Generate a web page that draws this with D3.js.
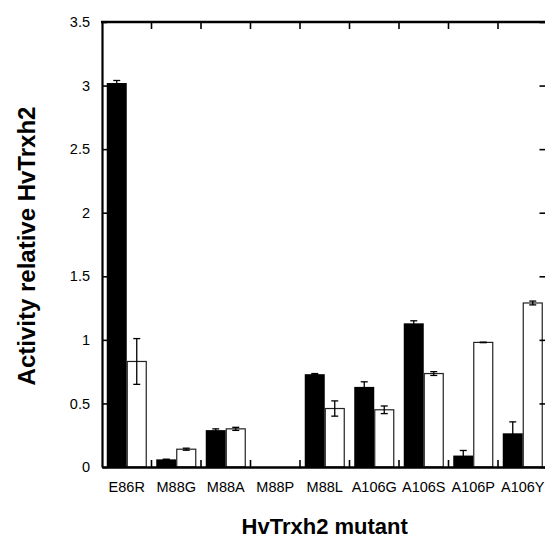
<!DOCTYPE html>
<html>
<head>
<meta charset="utf-8">
<script src="https://cdn.jsdelivr.net/npm/d3@7"></script>
<style>
  body { margin: 0; background: #fff; }
  svg { display: block; }
  svg text { font-family: "Liberation Sans", Arial, sans-serif; }
</style>
</head>
<body>
<svg width="545" height="540"></svg>
<script>
var mutants = ['E86R', 'M88G', 'M88A', 'M88P', 'M88L', 'A106G', 'A106S', 'A106P', 'A106Y'];
var series = ['filled', 'open'];
var filledValues = [3.02, 0.06, 0.29, 0, 0.73, 0.63, 1.13, 0.09, 0.265];
var filledErrors = [0.02, 0, 0.01, 0, 0.005, 0.04, 0.02, 0.04, 0.09];
var openValues = [0.83, 0.14, 0.30, 0, 0.46, 0.45, 0.735, 0.98, 1.29];
var openErrors = [0.18, 0.008, 0.012, 0, 0.06, 0.03, 0.015, 0.002, 0.015];
var yTicks = [0, 0.5, 1, 1.5, 2, 2.5, 3, 3.5];

var rows = mutants.map((m, i) => ({
    name: m,
    bars: [
        { key: 'filled', value: filledValues[i], err: filledErrors[i] },
        { key: 'open', value: openValues[i], err: openErrors[i] }
    ]
}));

var plotLeft = 102, plotRight = 547.5, plotTop = 22, plotBottom = 467;

var svg = d3.select('svg');

var x = d3.scaleBand()
    .domain(mutants)
    .range([plotLeft, plotRight])
    .paddingInner(0)
    .paddingOuter(0);

var x1 = d3.scaleBand()
    .domain(series)
    .range([0, x.bandwidth()])
    .paddingInner(0)
    .paddingOuter(0.2375);

var y = d3.scaleLinear()
    .domain([0, 3.5])
    .range([plotBottom, plotTop]);

// bars
var groups = svg.selectAll('g.cat')
    .data(rows)
    .enter().append('g')
    .attr('class', 'cat')
    .attr('transform', d => `translate(${x(d.name)},0)`);

groups.selectAll('rect')
    .data(d => d.bars)
    .enter().append('rect')
    .attr('x', d => x1(d.key) + (d.key === 'open' ? 0.5 : 0))
    .attr('width', d => x1.bandwidth() - (d.key === 'open' ? 1 : 0))
    .attr('y', d => y(d.value))
    .attr('height', d => y(0) - y(d.value))
    .attr('fill', d => d.key === 'filled' ? '#000' : '#fff')
    .attr('stroke', d => d.key === 'filled' ? 'none' : '#222')
    .attr('stroke-width', 1.2);

// error bars
var errs = groups.selectAll('g.err')
    .data(d => d.bars.filter(b => b.value > 0))
    .enter().append('g')
    .attr('class', 'err')
    .attr('stroke', '#000')
    .attr('stroke-width', 1.3);

var cx = d => x1(d.key) + x1.bandwidth() / 2;
errs.append('line')
    .attr('x1', cx).attr('x2', cx)
    .attr('y1', d => y(d.value + d.err))
    .attr('y2', d => y(d.value - d.err));
errs.append('line')
    .attr('x1', d => cx(d) - 3.5).attr('x2', d => cx(d) + 3.5)
    .attr('y1', d => y(d.value + d.err)).attr('y2', d => y(d.value + d.err));
errs.append('line')
    .attr('x1', d => cx(d) - 3.5).attr('x2', d => cx(d) + 3.5)
    .attr('y1', d => y(d.value - d.err)).attr('y2', d => y(d.value - d.err));

// left axis
var yAxis = d3.axisLeft(y)
    .tickValues(yTicks)
    .tickFormat(d3.format('~g'))
    .tickSizeInner(-5)
    .tickSizeOuter(0)
    .tickPadding(12);

var gy = svg.append('g')
    .attr('transform', `translate(${plotLeft},0)`)
    .call(yAxis);
gy.select('.domain').attr('stroke-width', 2.2);
gy.selectAll('.tick line').attr('stroke-width', 1.6);
gy.selectAll('.tick text').attr('font-size', 14.5).attr('fill', '#000');

// right axis (ticks only, inward)
var gyr = svg.append('g')
    .attr('transform', `translate(${plotRight},0)`)
    .call(d3.axisRight(y).tickValues(yTicks).tickSizeInner(-8).tickSizeOuter(0).tickFormat(''));
gyr.select('.domain').attr('stroke-width', 2.2);
gyr.selectAll('.tick line').attr('stroke-width', 1.6);

// bottom axis with labels
var xAxis = d3.axisBottom(x)
    .tickSize(0)
    .tickPadding(15);
var gx = svg.append('g')
    .attr('transform', `translate(0,${plotBottom})`)
    .call(xAxis);
gx.select('.domain').attr('stroke-width', 2.6);
gx.selectAll('.tick text').attr('font-size', 14.5).attr('fill', '#000');

// boundary ticks, bottom (up) and top (down)
var bounds = mutants.slice(1).map(m => x(m));
svg.append('g').selectAll('line')
    .data(bounds)
    .enter().append('line')
    .attr('x1', d => d).attr('x2', d => d)
    .attr('y1', plotBottom).attr('y2', plotBottom - 7)
    .attr('stroke', '#000').attr('stroke-width', 1.6);
svg.append('g').selectAll('line')
    .data(bounds)
    .enter().append('line')
    .attr('x1', d => d).attr('x2', d => d)
    .attr('y1', plotTop).attr('y2', plotTop + 7)
    .attr('stroke', '#000').attr('stroke-width', 1.6);

// top frame line
svg.append('line')
    .attr('x1', plotLeft - 1).attr('x2', plotRight)
    .attr('y1', plotTop).attr('y2', plotTop)
    .attr('stroke', '#000').attr('stroke-width', 2.4);

// axis titles
svg.append('text')
    .attr('x', (plotLeft + plotRight) / 2)
    .attr('y', 534)
    .attr('text-anchor', 'middle')
    .attr('font-size', 22)
    .attr('font-weight', 'bold')
    .text('HvTrxh2 mutant');

svg.append('text')
    .attr('transform', 'translate(35,246) rotate(-90)')
    .attr('text-anchor', 'middle')
    .attr('font-size', 24)
    .attr('font-weight', 'bold')
    .text('Activity relative HvTrxh2');
</script>
</body>
</html>
